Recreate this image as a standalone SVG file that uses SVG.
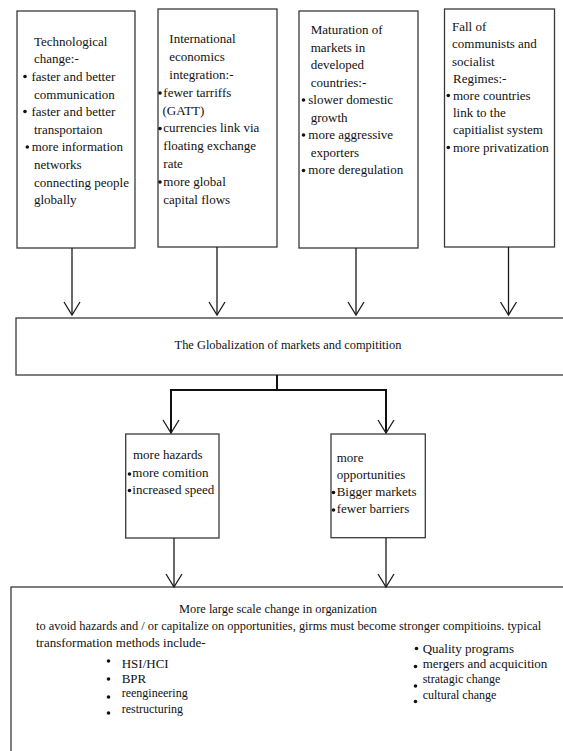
<svg xmlns="http://www.w3.org/2000/svg" width="563" height="751" viewBox="0 0 563 751">
  <defs>
    <style>
      .box { fill: #ffffff; stroke: #3a3a3a; stroke-width: 1.3; }
      text { font-family: 'Liberation Serif', 'DejaVu Serif', serif; fill: #111; }
      .t { font-size: 13px; }
      .tm { font-size: 12.4px; }
      .ts { font-size: 12px; }
      .line { fill: none; stroke: #1a1a1a; stroke-width: 1.3; }
      .thick { fill: none; stroke: #111; stroke-width: 2; }
      .dot { fill: #111; }
    </style>
    <marker id="vhead" viewBox="0 0 20 20" refX="18" refY="10" markerWidth="20" markerHeight="20" markerUnits="userSpaceOnUse" orient="auto">
      <path d="M5 2 L18 10 L5 18" fill="none" stroke="#1a1a1a" stroke-width="1.3"/>
    </marker>
  </defs>
  <rect width="563" height="751" fill="#ffffff"/>

  <!-- Driver: technological change -->
  <g id="node-tech">
    <rect class="box" x="17" y="11" width="118" height="237"/>
    <text class="t" x="34" y="45.7">Technological</text>
    <text class="t" x="34" y="63.3">change:-</text>
    <circle class="dot" cx="25" cy="76.5" r="1.8"/>
    <text class="t" x="31.5" y="80.9">faster and better</text>
    <text class="t" x="34" y="98.5">communication</text>
    <circle class="dot" cx="25" cy="111.5" r="1.8"/>
    <text class="t" x="31.5" y="116.1">faster and better</text>
    <text class="t" x="34" y="133.7">transportaion</text>
    <circle class="dot" cx="27.3" cy="147" r="1.8"/>
    <text class="t" x="31.7" y="151.3">more information</text>
    <text class="t" x="34" y="168.9">networks</text>
    <text class="t" x="34" y="186.5">connecting people</text>
    <text class="t" x="34" y="204.1">globally</text>
  </g>

  <!-- Driver: international economic integration -->
  <g id="node-intl">
    <rect class="box" x="158" y="9" width="119" height="238"/>
    <text class="t" x="169.3" y="43.3">International</text>
    <text class="t" x="169.3" y="61.1">economics</text>
    <text class="t" x="169.3" y="78.9">integration:-</text>
    <circle class="dot" cx="160" cy="93" r="1.8"/>
    <text class="t" x="163.3" y="96.7">fewer tarriffs</text>
    <text class="t" x="162.5" y="114.5">(GATT)</text>
    <circle class="dot" cx="160" cy="128.6" r="1.8"/>
    <text class="t" x="163.3" y="132.3">currencies link via</text>
    <text class="t" x="163.3" y="150.1">floating exchange</text>
    <text class="t" x="163.3" y="167.9">rate</text>
    <circle class="dot" cx="160" cy="182" r="1.8"/>
    <text class="t" x="163.3" y="185.7">more global</text>
    <text class="t" x="163.3" y="203.5">capital flows</text>
  </g>

  <!-- Driver: maturing markets -->
  <g id="node-maturation">
    <rect class="box" x="299" y="11" width="119" height="237"/>
    <text class="t" x="310.7" y="34">Maturation of</text>
    <text class="t" x="310.7" y="51.5">markets in</text>
    <text class="t" x="310.7" y="69">developed</text>
    <text class="t" x="310.7" y="86.5">countries:-</text>
    <circle class="dot" cx="303.5" cy="100" r="1.8"/>
    <text class="t" x="308.3" y="104">slower domestic</text>
    <text class="t" x="310.7" y="121.5">growth</text>
    <circle class="dot" cx="303.5" cy="135" r="1.8"/>
    <text class="t" x="308.3" y="139">more aggressive</text>
    <text class="t" x="310.7" y="156.5">exporters</text>
    <circle class="dot" cx="303.5" cy="170.5" r="1.8"/>
    <text class="t" x="308.3" y="174">more deregulation</text>
  </g>

  <!-- Driver: fall of communist regimes -->
  <g id="node-regimes">
    <rect class="box" x="444.5" y="9" width="110" height="238"/>
    <text class="t" x="452" y="31">Fall of</text>
    <text class="t" x="452" y="48.3">communists and</text>
    <text class="t" x="452" y="65.5">socialist</text>
    <text class="t" x="453" y="82.7">Regimes:-</text>
    <circle class="dot" cx="448.3" cy="95.5" r="1.8"/>
    <text class="t" x="453" y="100">more countries</text>
    <text class="t" x="453" y="117.2">link to the</text>
    <text class="t" x="453" y="134.4">capitialist system</text>
    <circle class="dot" cx="448.3" cy="147.5" r="1.8"/>
    <text class="t" x="453" y="151.6">more privatization</text>
  </g>

  <!-- Central outcome -->
  <g id="node-globalization">
    <rect class="box" x="16" y="318" width="560" height="57"/>
    <text class="tm" x="288" y="349" text-anchor="middle">The Globalization of markets and compitition</text>
  </g>

  <!-- Hazards branch -->
  <g id="node-hazards">
    <rect class="box" x="125.7" y="434" width="93.3" height="104"/>
    <text class="t" x="133" y="459.3">more hazards</text>
    <circle class="dot" cx="129.5" cy="474" r="1.8"/>
    <text class="t" x="132.3" y="476.7">more comition</text>
    <circle class="dot" cx="129.5" cy="490.5" r="1.8"/>
    <text class="t" x="132.3" y="494">increased speed</text>
  </g>

  <!-- Opportunities branch -->
  <g id="node-opportunities">
    <rect class="box" x="331" y="434" width="94.3" height="103.7"/>
    <text class="t" x="336.7" y="461.7">more</text>
    <text class="t" x="336.7" y="479">opportunities</text>
    <circle class="dot" cx="333.5" cy="492.5" r="1.8"/>
    <text class="t" x="336.7" y="496">Bigger markets</text>
    <circle class="dot" cx="333.5" cy="510" r="1.8"/>
    <text class="t" x="336.7" y="513.3">fewer barriers</text>
  </g>

  <!-- Resulting organizational change -->
  <g id="node-change">
    <rect class="box" x="11" y="587" width="560" height="200"/>
    <text class="tm" x="278" y="613" text-anchor="middle">More large scale change in organization</text>
    <text class="tm" x="36" y="630">to avoid hazards and / or capitalize on opportunities, girms must become stronger compitioins. typical</text>
    <text class="t" x="36" y="647">transformation methods include-</text>
    <circle class="dot" cx="108.5" cy="661" r="1.8"/>
    <text class="t" x="121.7" y="667.5">HSI/HCI</text>
    <circle class="dot" cx="108.5" cy="679" r="1.8"/>
    <text class="t" x="121.7" y="683">BPR</text>
    <circle class="dot" cx="108.5" cy="697" r="1.8"/>
    <text class="ts" x="121.7" y="697.3">reengineering</text>
    <circle class="dot" cx="108.5" cy="713" r="1.8"/>
    <text class="ts" x="121.7" y="712.7">restructuring</text>
    <circle class="dot" cx="416.5" cy="648.5" r="1.8"/>
    <text class="t" x="422.7" y="653.3">Quality programs</text>
    <circle class="dot" cx="415.5" cy="666.5" r="1.8"/>
    <text class="t" x="422.7" y="668.3">mergers and acquicition</text>
    <circle class="dot" cx="415.5" cy="686" r="1.8"/>
    <text class="ts" x="422.7" y="683.3">stratagic change</text>
    <circle class="dot" cx="415.5" cy="701.5" r="1.8"/>
    <text class="ts" x="422.7" y="699">cultural change</text>
  </g>

  <!-- Connectors -->
  <g id="connectors">
    <line class="line" x1="72" y1="248" x2="72" y2="315" marker-end="url(#vhead)"/>
    <line class="line" x1="217" y1="247" x2="217" y2="315" marker-end="url(#vhead)"/>
    <line class="line" x1="356" y1="248" x2="356" y2="315" marker-end="url(#vhead)"/>
    <line class="line" x1="508.5" y1="247" x2="508.5" y2="315" marker-end="url(#vhead)"/>
    <polyline class="thick" points="277,375 277,390"/>
    <polyline class="thick" points="171,390 386,390"/>
    <line class="thick" x1="171" y1="389" x2="171" y2="433" marker-end="url(#vhead)"/>
    <line class="thick" x1="386" y1="389" x2="386" y2="433" marker-end="url(#vhead)"/>
    <line class="line" x1="174" y1="538" x2="174" y2="587" marker-end="url(#vhead)"/>
    <line class="line" x1="386" y1="538" x2="386" y2="587" marker-end="url(#vhead)"/>
  </g>
</svg>
